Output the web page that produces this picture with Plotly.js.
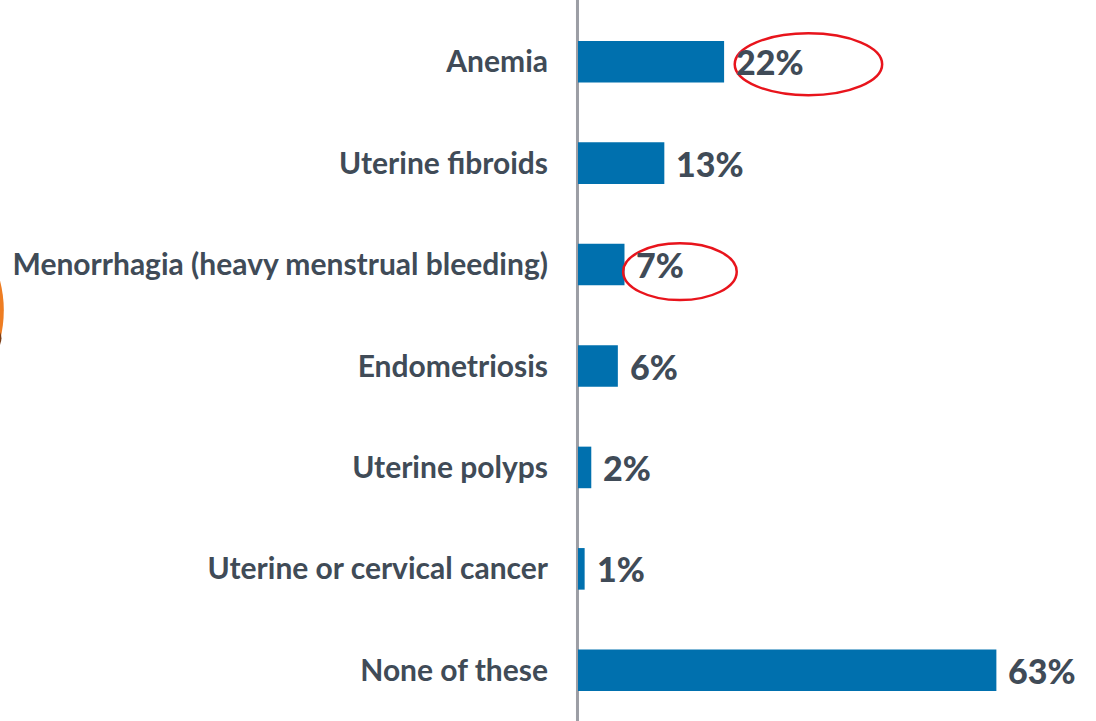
<!DOCTYPE html>
<html>
<head>
<meta charset="utf-8">
<script src="https://cdn.plot.ly/plotly-3.0.1.min.js"></script>
<style>
  html, body { margin: 0; padding: 0; background: #ffffff; }
  #chart { width: 1096px; height: 721px; }
</style>
</head>
<body>
<div id="chart"></div>
<script>
var conditions = [
  "Anemia",
  "Uterine fibroids",
  "Menorrhagia (heavy menstrual bleeding)",
  "Endometriosis",
  "Uterine polyps",
  "Uterine or cervical cancer",
  "None of these"
];
var shares = [22, 13, 7, 6, 2, 1, 63];
var shareLabels = ["22%", "13%", "7%", "6%", "2%", "1%", "63%"];

var TEXT_COLOR = "#404b57";
var BAR_COLOR = "#0070ae";

var barData = [
  {
    type: "bar",
    orientation: "h",
    x: shares,
    y: conditions,
    width: 0.41,
    marker: { color: BAR_COLOR },
    hoverinfo: "none"
  }
];

var valueLabels = shares.map(function(v, i) {
  return {
    x: v,
    y: conditions[i],
    text: shareLabels[i],
    showarrow: false,
    xanchor: "left",
    xshift: 10,
    yshift: 0,
    font: { family: "Lato", size: 34, color: TEXT_COLOR, weight: 900 }
  };
});

var shapes = [
  // vertical axis line running the full height (paper refs so it is not clipped)
  {
    type: "line", xref: "paper", yref: "paper",
    x0: -0.001, x1: -0.001, y0: -0.05, y1: 1.05,
    line: { color: "#9c9ea5", width: 3 },
    layer: "below"
  },
  // red highlight around 22%
  {
    type: "circle", xref: "x", yref: "y",
    x0: 23.6, x1: 45.8, y0: -0.28, y1: 0.33,
    line: { color: "#e8141c", width: 2.5 }
  },
  // red highlight around 7%
  {
    type: "circle", xref: "x", yref: "y",
    x0: 6.8, x1: 23.9, y0: 1.79, y1: 2.35,
    line: { color: "#e8141c", width: 2.5 }
  },
  // orange object peeking in at the left edge
  {
    type: "path", xref: "paper", yref: "paper",
    path: "M -1.12,0.631 Q -1.097,0.579 -1.12,0.525 Z",
    fillcolor: "#ee7d22",
    line: { width: 0 }
  },
  {
    type: "path", xref: "paper", yref: "paper",
    path: "M -1.12,0.553 Q -1.106,0.539 -1.12,0.525 Z",
    fillcolor: "#7a3c14",
    line: { width: 0 }
  }
];

var layout = {
  width: 1096,
  height: 721,
  margin: { l: 578, r: 0, t: 11, b: 0 },
  paper_bgcolor: "#ffffff",
  plot_bgcolor: "#ffffff",
  showlegend: false,
  xaxis: {
    range: [0, 78],
    showgrid: false,
    zeroline: false,
    showline: false,
    showticklabels: false,
    fixedrange: true
  },
  yaxis: {
    type: "category",
    categoryorder: "array",
    categoryarray: conditions,
    autorange: "reversed",
    showgrid: false,
    zeroline: false,
    showline: false,
    ticks: "",
    ticklabelstandoff: 29,
    tickfont: { family: "Lato", size: 30, color: TEXT_COLOR, weight: 700 },
    fixedrange: true
  },
  annotations: valueLabels,
  shapes: shapes
};

Plotly.newPlot("chart", barData, layout, { displayModeBar: false, staticPlot: true });
</script>
</body>
</html>
